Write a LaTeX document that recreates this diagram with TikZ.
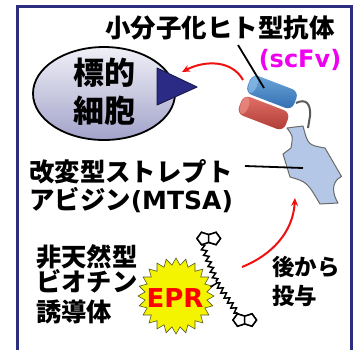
\documentclass[tikz,border=0pt]{standalone}
\usepackage{fontspec}
\setmainfont{DejaVu Sans}
\newfontfamily\jp{Noto Sans CJK JP}
\usetikzlibrary{shapes.geometric,decorations.pathmorphing,arrows.meta,calc}

\definecolor{framenavy}{HTML}{2E2E7E}
\definecolor{cellTop}{HTML}{F0F0F7}
\definecolor{cellBot}{HTML}{A2A2CA}
\definecolor{triFill}{HTML}{2B2B85}
\definecolor{triLine}{HTML}{1B1B50}
\definecolor{arrowRed}{HTML}{F01010}
\definecolor{scfvMagenta}{HTML}{F000F0}
\definecolor{mtsaFill}{HTML}{B4C7E7}
\definecolor{mtsaLine}{HTML}{6A6A6A}
\definecolor{linkerGray}{HTML}{5A5A5A}
\definecolor{starYellow}{HTML}{F4F400}
\definecolor{starLine}{HTML}{5A5A20}
\definecolor{vhTop}{HTML}{6FA8DC}
\definecolor{vhBot}{HTML}{2F6CB0}
\definecolor{vhCap}{HTML}{8DBCE8}
\definecolor{vlTop}{HTML}{E2726A}
\definecolor{vlBot}{HTML}{AE3A34}
\definecolor{vlCap}{HTML}{EC9088}

\tikzset{
  jplabel/.style={inner sep=0pt, font=\jp\bfseries\fontsize{#1}{#1}\selectfont},
  latlabel/.style={inner sep=0pt, font=\bfseries\fontsize{#1}{#1}\selectfont},
  redarrow/.style={draw=arrowRed, line width=2pt, -{Stealth[length=8pt,width=7pt]}},
  pointer/.style={draw=black, line width=1.8pt},
  chain/.style={draw=black, line width=1.5pt, decorate,
    decoration={zigzag, segment length=6pt, amplitude=2.4pt}},
  ringhalf/.style={regular polygon, regular polygon sides=5, minimum size=13pt,
    inner sep=0pt, draw=black, line width=1.5pt, fill=white},
  vdomain/.style={rectangle, rounded corners=7pt, minimum width=50pt,
    minimum height=20pt, inner sep=0pt, rotate=-21},
  vcap/.style={ellipse, minimum width=8pt, minimum height=17pt, inner sep=0pt,
    rotate=-21, opacity=0.7},
}

\begin{document}
\begin{tikzpicture}[x=1pt,y=-1pt]
\useasboundingbox (0,0) rectangle (355,349);
\clip (0,0) rectangle (355,349);
\fill[white] (0,0) rectangle (355,349);

% panel frame (open at the bottom edge)
\draw[framenavy, line width=3pt] (17.5,360) -- (17.5,6) -- (351,6) -- (351,360);

% target cell with its receptor
\node[draw=black, ellipse, line width=1.8pt, minimum width=142pt, minimum height=93pt,
      top color=cellTop, bottom color=cellBot] (cell) at (104,93.5) {};
\coordinate (triA) at (157,68);
\coordinate (triB) at (197,87);
\coordinate (triC) at (157,105);
\draw[fill=triFill, draw=triLine, line width=1pt, line join=round] (triA) -- (triB) -- (triC) -- cycle;
\node[jplabel=31] (cellA) at (104,73) {標的};
\node[jplabel=31] (cellB) at (104,111) {細胞};

% modified streptavidin
\coordinate (m1) at (287,128);
\coordinate (m2) at (303,126);
\coordinate (m3) at (325,148);
\coordinate (m4) at (341.5,176.5);
\coordinate (m5) at (338,203);
\coordinate (m6) at (320,204);
\coordinate (m7) at (290,177);
\coordinate (m8) at (283,154);
\coordinate (m9) at (291,148);
\draw[fill=mtsaFill, draw=mtsaLine, line width=1pt, line join=round]
  (m1) -- (m2) .. controls (308,145) .. (m3) -- (m4)
  .. controls (330,182) and (333,195) .. (m5) -- (m6)
  .. controls (307,182) .. (m7) -- (m8) -- (m9)
  .. controls (293,136) .. (m1) -- cycle;

% linker between scFv and MTSA
\coordinate (lk1) at (296,103);
\coordinate (lk2) at (310,116);
\coordinate (lk3) at (308,128);
\draw[linkerGray, line width=2pt] (lk1) .. controls (306,98) and (311,104) .. (lk2) -- (lk3);

% scFv: two variable domains
\node[vdomain, top color=vlTop, bottom color=vlBot] (vl) at (263.5,113) {};
\node[vcap, fill=vlCap] (vlEnd) at ($(vl.west)!5pt!(vl.east)$) {};
\node[vdomain, top color=vhTop, bottom color=vhBot] (vh) at (272,92) {};
\node[vcap, fill=vhCap] (vhEnd) at ($(vh.west)!5pt!(vh.east)$) {};

% labels and pointer lines
\node[jplabel=25.5, anchor=west] (abLabel) at (105,28) {小分子化ヒト型抗体};
\node[latlabel=24, text=scfvMagenta] (scfvLabel) at (300,60) {(scFv)};
\coordinate (abTail) at (238,45);
\coordinate (abHead) at (264,88);
\draw[pointer] (abTail) -- (abHead);

\node[jplabel=25.4, anchor=west] (mtsaA) at (29,172) {改変型ストレプト};
\node[anchor=base west, inner sep=0pt] (mtsaB) at (29,209.6)
  {\jp\bfseries\fontsize{25.4}{25.4}\selectfont アビジン\rmfamily\bfseries\fontsize{25}{25}\selectfont(MTSA)};
\coordinate (mtsaTail) at (245,166);
\coordinate (mtsaHead) at (303,168);
\draw[pointer] (mtsaTail) -- (mtsaHead);

% binding arrow toward the cell
\coordinate (bindFrom) at (243,80);
\coordinate (bindTo) at (182,72);
\draw[redarrow] (bindFrom) .. controls (232,60) and (205,60) .. (bindTo);

% unnatural biotin derivative carrying the EPR effect
\node[star, star points=24, star point ratio=1.22, minimum size=76pt, inner sep=0pt,
      fill=starYellow, draw=starLine, line width=0.6pt] (epr) at (176,296) {};
\node[latlabel=26, text=red, anchor=base] (eprText) at (175,307) {EPR};

\node[ringhalf, rotate=90]  (ringTL) at (203.5,238.5) {};
\node[ringhalf, rotate=-90] (ringTR) at (214.0,238.5) {};
\node[ringhalf, rotate=90]  (ringBL) at (239.5,320) {};
\node[ringhalf, rotate=-90] (ringBR) at (250.0,320) {};
\coordinate (chainTop) at (202,244.7);
\coordinate (junction) at (217,283);
\coordinate (chainBot) at (237.5,313.8);
\coordinate (anchorStar) at (210.5,287);
\draw[chain] (chainTop) -- (junction);
\draw[chain] (junction) -- (chainBot);
\draw[black, line width=1.5pt] (junction) -- (anchorStar);
% redraw the rings above the chain ends
\node[ringhalf, rotate=90]  at (ringTL) {};
\node[ringhalf, rotate=-90] at (ringTR) {};
\node[ringhalf, rotate=90]  at (ringBL) {};
\node[ringhalf, rotate=-90] at (ringBR) {};

\node[jplabel=25.3, anchor=west] (bioA) at (36,257) {非天然型};
\node[jplabel=25.3, anchor=west] (bioB) at (36,281.5) {ビオチン};
\node[jplabel=25.3, anchor=west] (bioC) at (36,312) {誘導体};

% later administration
\coordinate (adminFrom) at (242,267);
\coordinate (adminTo) at (295,198);
\draw[redarrow] (adminFrom) .. controls (272,255) and (293,232) .. (adminTo);
\node[jplabel=22.5, anchor=west] (admA) at (272,267) {後から};
\node[jplabel=22.5, anchor=west] (admB) at (272,296) {投与};
\end{tikzpicture}
\end{document}
